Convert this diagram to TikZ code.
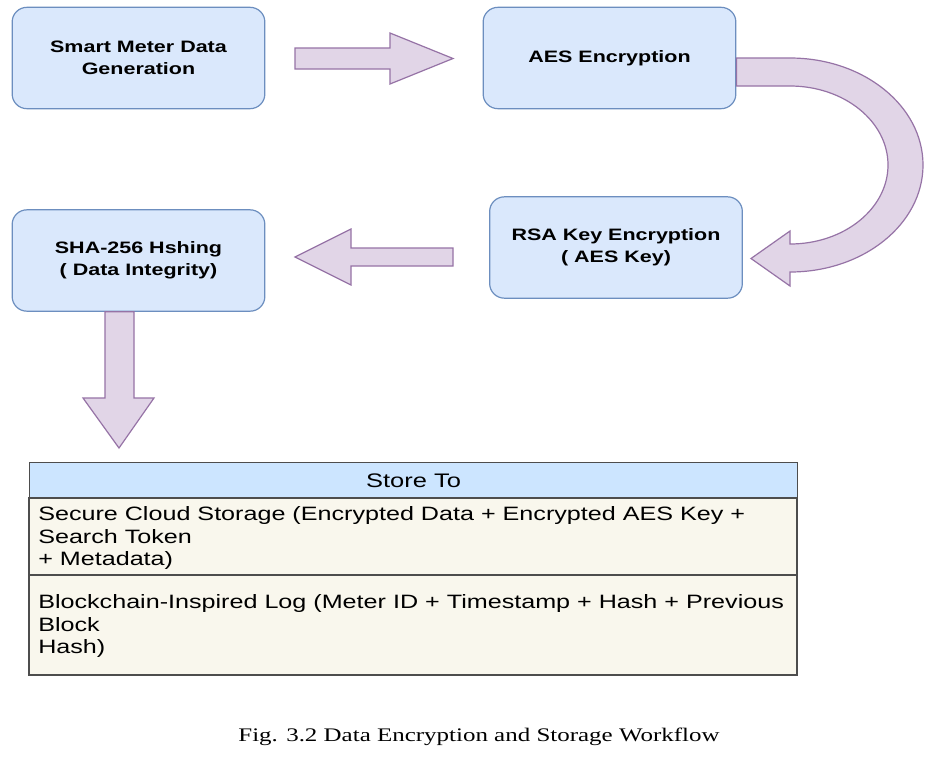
\documentclass[tikz,border=0pt]{standalone}
\usepackage{fontspec}
\setmainfont[FakeStretch=1.3]{Liberation Sans}
\newfontfamily\capfont[FakeStretch=1.3]{Liberation Serif}
\usetikzlibrary{calc}
\definecolor{boxfill}{HTML}{DAE8FC}
\definecolor{boxline}{HTML}{6C8EBF}
\definecolor{arrfill}{HTML}{E1D5E7}
\definecolor{arrline}{HTML}{9673A6}
\definecolor{headfill}{HTML}{CCE5FF}
\definecolor{rowfill}{HTML}{F9F7ED}
\definecolor{tabline}{HTML}{4D4D4D}
\begin{document}
\begin{tikzpicture}[x=0.75pt,y=-0.75pt,
  procbox/.style={draw=boxline, fill=boxfill, line width=0.9pt, rounded corners=11pt,
    minimum width=189.5pt, minimum height=76pt, inner sep=0pt, align=center,
    font=\bfseries\fontsize{12.4}{16.5}\selectfont},
  blockarrow/.style={draw=arrline, fill=arrfill, line width=0.9pt, line join=miter},
  tabcell/.style={draw=tabline, line width=0.9pt},
  tabtext/.style={anchor=base west, inner sep=0pt, font=\fontsize{14.5}{17}\selectfont}]
\useasboundingbox (0,0) rectangle (949,758);
\fill[white] (0,0) rectangle (949,758);

% process boxes
\node[procbox] (gen) at (138.5,58) {Smart Meter Data\\Generation};
\node[procbox] (aes) at (609.5,58) {AES Encryption};
\node[procbox] (rsa) at (616,247.5) {RSA Key Encryption\\( AES Key)};
\node[procbox] (sha) at (138.5,260.5) {SHA-256 Hshing\\( Data Integrity)};

% block arrows
\draw[blockarrow] (295,48) -- (390,48) -- (390,33) -- (453,58.5) -- (390,84) -- (390,69) -- (295,69) -- cycle;
\draw[blockarrow] (aes.east |- 0,58) -- (790,58)
  arc[start angle=-90, end angle=90, x radius=133, y radius=107]
  -- (790,286) -- (751,258.5) -- (790,231) -- (790,244)
  arc[start angle=90, end angle=-90, x radius=98, y radius=79]
  -- (aes.east |- 0,86) -- cycle;
\draw[blockarrow] (453,248) -- (351,248) -- (351,229) -- (295,257) -- (351,285) -- (351,266) -- (453,266) -- cycle;
\draw[blockarrow] (sha.south -| 105,0) -- (105,398) -- (83,398) -- (119,448) -- (154,398) -- (134,398) -- (sha.south -| 134,0) -- cycle;

% storage table
\node[tabcell, fill=headfill, anchor=north west, minimum width=576pt, minimum height=27pt, inner sep=0pt,
  font=\fontsize{14.7}{17}\selectfont] (head) at (29,462) {Store To};
\draw[tabcell, fill=rowfill] (29,498) rectangle (797,575);
\draw[tabcell, fill=rowfill] (29,575) rectangle (797,675);
\node[tabtext] (r1a) at (38,520.5) {Secure Cloud Storage (Encrypted Data + Encrypted AES Key +};
\node[tabtext] (r1b) at (38,543) {Search Token};
\node[tabtext] (r1c) at (38,565.5) {+ Metadata)};
\node[tabtext] (r2a) at (38,608.5) {Blockchain-Inspired Log (Meter ID + Timestamp + Hash + Previous};
\node[tabtext] (r2b) at (38,631) {Block};
\node[tabtext] (r2c) at (38,653.5) {Hash)};

% caption
\node[anchor=base, inner sep=0pt, font=\capfont\fontsize{14.4}{17}\selectfont] (cap) at (479,741)
  {Fig. 3.2 Data Encryption and Storage Workflow};
\end{tikzpicture}
\end{document}
